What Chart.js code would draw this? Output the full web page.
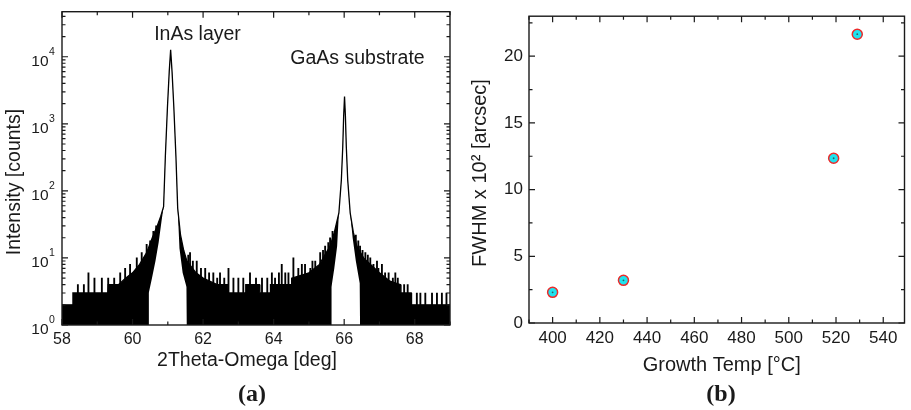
<!DOCTYPE html>
<html>
<head>
<meta charset="utf-8">
<script src="https://cdn.jsdelivr.net/npm/chart.js@4.4.0/dist/chart.umd.min.js"></script>
<style>
  body { margin: 0; background: #fff; }
  #wrap { position: relative; width: 911px; height: 410px; }
  .panel { position: absolute; top: 0; height: 410px; }
  #panelA { left: 0; width: 460px; }
  #panelB { left: 460px; width: 451px; }
</style>
</head>
<body>
<div id="wrap">
  <div class="panel" id="panelA"><canvas id="scanChart"></canvas></div>
  <div class="panel" id="panelB"><canvas id="fwhmChart"></canvas></div>
</div>
<script>
// (a) 2Theta-Omega scan : dense part of the noisy trace (upper edge)
const scanAngle = [
  58.00, 58.30, 58.31, 59.30, 59.31, 59.60, 59.80, 60.00, 60.20, 60.40,
  60.56, 60.70, 60.80, 60.88, 60.93, 60.99, 61.04, 61.08, 61.12, 61.17,
  61.23, 61.28, 61.36, 61.45, 61.54, 61.80, 62.00, 62.40, 62.70, 62.71,
  63.20, 63.21, 63.60, 63.61, 63.90, 63.91, 64.50, 64.51, 65.00, 65.30,
  65.45, 65.60, 65.72, 65.85, 65.92, 65.96, 65.985, 66.01, 66.035, 66.06,
  66.10, 66.17, 66.26, 66.36, 66.55, 66.80, 67.00, 67.30, 67.60, 67.61,
  67.90, 67.91, 69.00,
];
const scanCounts = [
  2, 2, 3, 3, 4, 4, 5, 6, 8, 12,
  20, 30, 42, 58, 325, 1800, 6000, 12700, 6000, 1800,
  325, 55, 22, 13, 9, 6, 5, 4, 4, 3,
  3, 4, 4, 3, 3, 4, 4, 5, 6, 8,
  11, 15, 24, 47, 146, 460, 1300, 2560, 1300, 460,
  146, 47, 24, 15, 10, 7.5, 6, 4.5, 4, 3,
  3, 2, 2,
];

// single channels sticking out of the noise band
const spikeAngle = [
  58.45, 58.62, 58.75, 58.92, 59.13, 59.31, 59.48, 59.65, 59.79, 59.93,
  60.12, 60.26, 60.33, 60.40, 60.50, 60.59, 60.67,
  61.58, 61.63, 61.71, 61.82, 61.94, 62.06, 62.17, 62.29, 62.40, 62.48,
  62.60, 62.72, 62.86, 63.00, 63.14, 63.33, 63.50, 63.67, 63.82, 63.95,
  64.04, 64.15, 64.23, 64.33, 64.42, 64.56, 64.70, 64.80, 64.89, 65.04,
  65.10, 65.18, 65.32, 65.40, 65.46, 65.55, 65.60, 65.67,
  66.33, 66.40, 66.45, 66.52, 66.60, 66.67, 66.74, 66.83, 66.93, 66.97,
  67.07, 67.16, 67.26, 67.38, 67.45, 67.52, 67.70, 67.80, 68.06, 68.16,
  68.30, 68.49, 68.63, 68.77, 68.90,
];
const spikeCounts = [
  4, 4, 6, 5, 5, 5, 5, 6, 7, 8,
  10, 12, 10, 16, 18, 25, 30,
  11, 12, 9, 9, 7, 7, 6, 6, 5, 6,
  5, 7, 5, 5, 5, 6, 5, 5, 5, 6,
  5, 6, 8, 6, 6, 10, 7, 8, 8, 7,
  9, 9, 12, 13, 15, 17, 20, 25,
  22, 18, 15, 13, 12, 11, 10, 8, 9, 7,
  8, 6, 6, 5, 6, 5, 4, 4, 3, 3,
  3, 3, 3, 3, 3,
];

// lower edge of the trace under each peak (white area below it)
const inasValleyAngle = [60.45, 60.46, 60.55, 60.65, 60.74, 60.82, 60.88, 60.93, 60.99, 61.04,
  61.08, 61.12, 61.17, 61.23, 61.28, 61.33, 61.42, 61.53, 61.54];
const inasValleyCounts = [1, 3, 5, 9, 17, 35, 58, 325, 1800, 6000,
  12700, 6000, 1800, 325, 55, 14, 6, 3.7, 1];
const gaasValleyAngle = [65.63, 65.64, 65.72, 65.80, 65.85, 65.92, 65.96, 65.985, 66.01, 66.035,
  66.06, 66.10, 66.17, 66.24, 66.33, 66.44, 66.45];
const gaasValleyCounts = [1, 3.7, 7, 15, 47, 146, 460, 1300, 2560, 1300,
  460, 146, 47, 20, 9, 4.2, 1];

const angleTicks = [58, 60, 62, 64, 66, 68];
const angleMinorTicks = [59, 61, 63, 65, 67, 69];
const countTicks = [1, 10, 100, 1000, 10000];

// (b) FWHM vs growth temperature
const growthTemp = [400, 430, 519, 529];
const fwhmValues = [2.3, 3.2, 12.35, 21.65];
const tempTicks = [400, 420, 440, 460, 480, 500, 520, 540];
const tempMinorTicks = [390, 410, 430, 450, 470, 490, 510, 530];
const fwhmTicks = [0, 5, 10, 15, 20];
const fwhmMinorTicks = [2.5, 7.5, 12.5, 17.5, 22.5];

const SANS = '"Liberation Sans", Arial, sans-serif';
const SERIF = '"Liberation Serif", "Times New Roman", serif';
const INK = '#1a1a1a';

const toPoints = (xs, ys) => xs.map((x, i) => ({ x, y: ys[i] }));

const logMinorTicks = (max) => {
  const out = [];
  for (let e = 0; 10 ** e <= max; e++) {
    for (let m = 2; m <= 9; m++) {
      if (m * 10 ** e <= max) out.push(m * 10 ** e);
    }
  }
  return out;
};

// Box, inward ticks on all four sides, and free text
const framePlugin = {
  id: 'frame',
  afterDraw(chart, args, opts) {
    const { ctx, chartArea: a, scales } = chart;
    ctx.save();
    ctx.strokeStyle = INK;
    ctx.lineWidth = 1.4;
    ctx.strokeRect(a.left, a.top, a.right - a.left, a.bottom - a.top);

    const drawTicks = (scale, values, len) => {
      ctx.lineWidth = 1.2;
      values.forEach((v) => {
        const p = scale.getPixelForValue(v);
        ctx.beginPath();
        if (scale.isHorizontal()) {
          ctx.moveTo(p, a.bottom); ctx.lineTo(p, a.bottom - len);
          ctx.moveTo(p, a.top); ctx.lineTo(p, a.top + len);
        } else {
          ctx.moveTo(a.left, p); ctx.lineTo(a.left + len, p);
          ctx.moveTo(a.right, p); ctx.lineTo(a.right - len, p);
        }
        ctx.stroke();
      });
    };
    drawTicks(scales.x, opts.xMajor, 6);
    drawTicks(scales.x, opts.xMinor, 3.5);
    drawTicks(scales.y, opts.yMajor, 6);
    drawTicks(scales.y, opts.yMinor, 3.5);

    ctx.fillStyle = INK;
    // 10^n labels of the log axis
    if (opts.powerLabels) {
      opts.yMajor.forEach((v) => {
        const p = scales.y.getPixelForValue(v);
        const xr = a.left - 13.5;
        ctx.font = '15.5px ' + SANS;
        ctx.textAlign = 'right';
        ctx.textBaseline = 'middle';
        ctx.fillText('10', xr, p + 4.5);
        ctx.font = '10.5px ' + SANS;
        ctx.textAlign = 'left';
        ctx.fillText(String(Math.round(Math.log10(v))), xr + 0.5, p - 4.5);
      });
    }

    (opts.texts || []).forEach((t) => {
      ctx.save();
      ctx.font = t.font;
      ctx.textAlign = 'center';
      ctx.textBaseline = 'middle';
      ctx.translate(t.x, t.y);
      if (t.rotate) ctx.rotate(t.rotate);
      ctx.fillText(t.text, 0, 0);
      ctx.restore();
    });
    ctx.restore();
  },
};

const fixTicks = (values) => (scale) => {
  scale.ticks = values.map((value) => ({ value }));
};

const generateScanChart = (canvasId) => {
  const context = document.getElementById(canvasId);
  const trace = toPoints(scanAngle, scanCounts);

  new Chart(context, {
    type: 'line',
    data: {
      datasets: [
        {
          // dense noise band, filled down to the axis
          data: trace,
          fill: 'start',
          backgroundColor: '#000',
          borderWidth: 0,
          pointRadius: 0,
          order: 4,
        },
        {
          type: 'bar',
          data: toPoints(spikeAngle, spikeCounts),
          backgroundColor: '#000',
          barThickness: 1.2,
          order: 3,
        },
        {
          data: toPoints(inasValleyAngle, inasValleyCounts),
          fill: 'start',
          backgroundColor: '#fff',
          borderWidth: 0,
          pointRadius: 0,
          order: 2,
        },
        {
          data: toPoints(gaasValleyAngle, gaasValleyCounts),
          fill: 'start',
          backgroundColor: '#fff',
          borderWidth: 0,
          pointRadius: 0,
          order: 2,
        },
        {
          // the trace outline (peak lines)
          data: trace,
          fill: false,
          borderColor: '#000',
          borderWidth: 1.3,
          pointRadius: 0,
          order: 1,
        },
      ],
    },
    options: {
      animation: false,
      responsive: true,
      maintainAspectRatio: false,
      layout: { padding: { left: 0, right: 10, top: 11.7, bottom: 25 } },
      scales: {
        x: {
          type: 'linear',
          offset: false,
          min: 58,
          max: 69,
          afterBuildTicks: fixTicks(angleTicks),
          afterFit: (s) => { s.height = 60; },
          grid: { display: false, drawTicks: false, offset: false },
          border: { display: false },
          ticks: { font: { size: 16, family: SANS }, color: INK, padding: 5, maxRotation: 0 },
        },
        y: {
          type: 'logarithmic',
          min: 1,
          max: 47000,
          afterFit: (s) => { s.width = 62; },
          grid: { display: false, drawTicks: false },
          border: { display: false },
          ticks: { display: false },
        },
      },
      plugins: {
        legend: { display: false },
        tooltip: { enabled: false },
        frame: {
          xMajor: angleTicks,
          xMinor: angleMinorTicks,
          yMajor: countTicks,
          yMinor: logMinorTicks(47000),
          powerLabels: true,
          texts: [
            { text: 'InAs layer', x: 197.5, y: 35, font: '19.5px ' + SANS },
            { text: 'GaAs substrate', x: 357.5, y: 59, font: '19.5px ' + SANS },
            { text: '2Theta-Omega [deg]', x: 247, y: 361, font: '19.5px ' + SANS },
            { text: 'Intensity [counts]', x: 15, y: 182, font: '19.5px ' + SANS, rotate: -Math.PI / 2 },
            { text: '(a)', x: 252, y: 395, font: 'bold 24px ' + SERIF },
          ],
        },
      },
    },
    plugins: [framePlugin],
  });
};

const generateFwhmChart = (canvasId) => {
  const context = document.getElementById(canvasId);
  const points = toPoints(growthTemp, fwhmValues);

  new Chart(context, {
    type: 'scatter',
    data: {
      datasets: [
        {
          data: points,
          pointRadius: 5,
          pointBackgroundColor: '#1fe3ef',
          pointBorderColor: '#ec2a2a',
          pointBorderWidth: 1.5,
          order: 2,
        },
        {
          // small dot in the centre of each marker
          data: points,
          pointRadius: 0.9,
          pointBackgroundColor: '#3a5a60',
          pointBorderWidth: 0,
          order: 1,
        },
      ],
    },
    options: {
      animation: false,
      responsive: true,
      maintainAspectRatio: false,
      layout: { padding: { left: 0, right: 1, top: 11, bottom: 27 } },
      scales: {
        x: {
          type: 'linear',
          min: 390,
          max: 549,
          afterBuildTicks: fixTicks(tempTicks),
          afterFit: (s) => { s.height = 60; },
          grid: { display: false, drawTicks: false },
          border: { display: false },
          ticks: { font: { size: 17, family: SANS }, color: INK, padding: 5, maxRotation: 0 },
        },
        y: {
          type: 'linear',
          min: 0,
          max: 23,
          afterBuildTicks: fixTicks(fwhmTicks),
          afterFit: (s) => { s.width = 69; },
          grid: { display: false, drawTicks: false },
          border: { display: false },
          ticks: { font: { size: 17, family: SANS }, color: INK, padding: 6 },
        },
      },
      plugins: {
        legend: { display: false },
        tooltip: { enabled: false },
        frame: {
          xMajor: tempTicks,
          xMinor: tempMinorTicks,
          yMajor: fwhmTicks,
          yMinor: fwhmMinorTicks,
          texts: [
            { text: 'Growth Temp [°C]', x: 261.7, y: 365, font: '20px ' + SANS },
            { text: 'FWHM x 10² [arcsec]', x: 20, y: 173, font: '20px ' + SANS, rotate: -Math.PI / 2 },
            { text: '(b)', x: 261, y: 395, font: 'bold 24px ' + SERIF },
          ],
        },
      },
    },
    plugins: [framePlugin],
  });
};

generateScanChart('scanChart');
generateFwhmChart('fwhmChart');
</script>
</body>
</html>
